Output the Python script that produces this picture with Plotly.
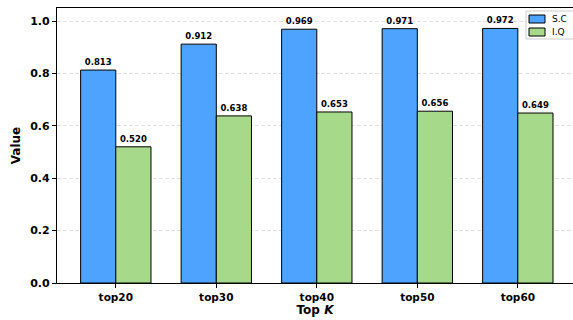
import plotly.graph_objects as go

categories = ["top20", "top30", "top40", "top50", "top60"]
sc_values = [0.813, 0.912, 0.969, 0.971, 0.972]
iq_values = [0.520, 0.638, 0.653, 0.656, 0.649]
series_names = ["S.C", "I.Q"]
series_colors = ["#4da3ff", "#a6d98a"]

FONT = "DejaVu Sans"
x_idx = list(range(len(categories)))

fig = go.Figure()
for name, vals, color, off in [
    (series_names[0], sc_values, series_colors[0], -0.35),
    (series_names[1], iq_values, series_colors[1], 0.0),
]:
    fig.add_trace(go.Bar(
        name=name,
        x=x_idx,
        y=vals,
        width=0.35,
        offset=off,
        marker=dict(color=color, line=dict(color="black", width=1)),
        text=[f"<b>{v:.3f}</b>" for v in vals],
        textposition="outside",
        textfont=dict(family=FONT, size=8.5, color="black"),
        cliponaxis=False,
        showlegend=False,
    ))

# legend box drawn in pixel-aligned paper coordinates
W, H = 573, 320
ML, MR, MT, MB = 57, 0, 8, 37
pw, ph = W - ML - MR, H - MT - MB


def px(x):
    return (x - ML) / pw


def py(y):
    return 1 - (y - MT) / ph


shapes = [dict(type="rect", xref="paper", yref="paper",
               x0=px(526), x1=px(580), y0=py(11), y1=py(39),
               fillcolor="white", line=dict(color="#cccccc", width=1), layer="above")]
annotations = []
for i, (name, color) in enumerate(zip(series_names, series_colors)):
    yc = 19 + i * 13
    shapes.append(dict(type="rect", xref="paper", yref="paper",
                       x0=px(529), x1=px(545), y0=py(yc - 4), y1=py(yc + 4),
                       fillcolor=color, line=dict(color="black", width=1), layer="above"))
    annotations.append(dict(xref="paper", yref="paper", x=px(550), y=py(yc),
                            xanchor="left", yanchor="middle", showarrow=False,
                            text=name, font=dict(family=FONT, size=9, color="black")))

fig.update_layout(
    width=W, height=H,
    margin=dict(l=ML, r=MR, t=MT, b=MB),
    plot_bgcolor="white", paper_bgcolor="white",
    font=dict(family=FONT, color="black"),
    barmode="group",
    shapes=shapes,
    annotations=annotations,
    xaxis=dict(
        range=[-0.585, 4.549],
        tickmode="array", tickvals=x_idx,
        ticktext=[f"<b>{c}</b>" for c in categories],
        tickfont=dict(family=FONT, size=10.5),
        ticks="outside", ticklen=4, tickwidth=1.2, tickcolor="black",
        showline=True, linecolor="black", linewidth=1.2, mirror=True,
        showgrid=False, zeroline=False,
        title=dict(text="<b>Top <i>K</i></b>", font=dict(family=FONT, size=12), standoff=3),
    ),
    yaxis=dict(
        range=[0, 1.05],
        tickmode="array", tickvals=[0, 0.2, 0.4, 0.6, 0.8, 1.0],
        ticktext=["<b>0.0</b>", "<b>0.2</b>", "<b>0.4</b>", "<b>0.6</b>", "<b>0.8</b>", "<b>1.0</b>"],
        tickfont=dict(family=FONT, size=11),
        ticks="outside", ticklen=4, tickwidth=1.2, tickcolor="black",
        showline=True, linecolor="black", linewidth=1.2, mirror=False,
        showgrid=True, gridcolor="#e0e0e0", griddash="4px,2px", gridwidth=0.8,
        zeroline=False,
        title=dict(text="<b>Value</b>", font=dict(family=FONT, size=12), standoff=7),
    ),
)

fig.write_html("out.html")
